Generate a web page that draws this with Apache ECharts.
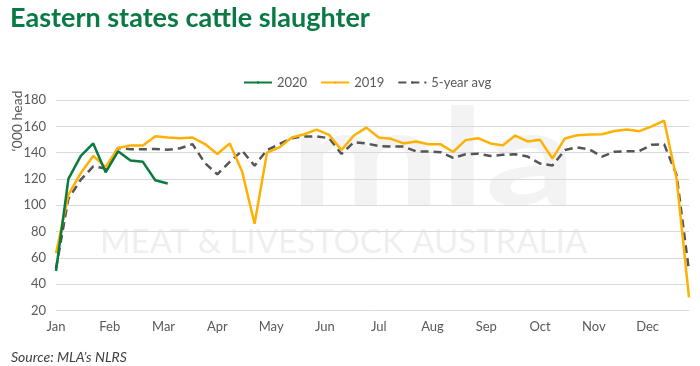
<!DOCTYPE html>
<html>
<head>
<meta charset="utf-8">
<script src="https://cdn.jsdelivr.net/npm/echarts@6/dist/echarts.min.js"></script>
<style>
html,body{margin:0;padding:0;background:#fff;}
#chart{width:700px;height:366px;}
</style>
</head>
<body>
<div id="chart"></div>
<script>
var months = ['Jan','Feb','Mar','Apr','May','Jun','Jul','Aug','Sep','Oct','Nov','Dec'];
var series2020 = [50,120,137.5,147,125,141,134,133,119,116.5];
var series2019 = [63.5,108,124.5,137.5,129,143.5,145.5,145.5,152.5,151.5,151,151.5,146.5,139,147,125.5,86,140,144,151.5,154,157.5,153.5,142,153,159,151.5,150.5,147,148.5,146.3,146.3,140.5,149.5,151,147,145.5,153,148.5,149.7,135.5,150.8,153.2,153.7,154,156.5,157.5,156.3,160,164.3,120,30];
var series5yr = [52,105,119.5,129.5,128,143.5,142.5,142.5,142.8,142.2,143.3,146.5,132,123.5,133,141.5,130,142,146.5,151,152.3,152.3,151,139,148,147,145,144.6,144.6,141,140.8,140.3,136,138.8,139.2,137.5,138.3,138.8,137,131.7,130.2,142,144,142.3,137,140.7,141,141.2,146,146.3,123,50];

function toPairs(arr){ return arr.map(function(v,i){ return [i,v]; }); }
var monthStep = 52/12;
var FONT = 'Lato';
var solidIcon = 'path://M0,0H28V3H0Z';
var dashIcon = 'path://M0,0H7V3H0Z M11,0H18V3H11Z M22,0H28V3H22Z';

var chart = echarts.init(document.getElementById('chart'), null, {renderer:'canvas'});
chart.setOption({
  backgroundColor:'#ffffff',
  animation:false,
  textStyle:{fontFamily:FONT},
  title:[
    {text:'Eastern states cattle slaughter', left:5, top:0,
     textStyle:{fontFamily:FONT, fontWeight:'bold', fontSize:27, color:'#0a7a45'}},
    {text:'Source: MLA\u2019s NLRS', left:6, top:345,
     textStyle:{fontFamily:FONT, fontStyle:'italic', fontWeight:'normal', fontSize:14, color:'#404040'}}
  ],
  graphic:[
    {type:'text', z:-10, x:290, y:161, scaleX:1.33, silent:true,
     style:{text:'mla', fontFamily:FONT, fontWeight:'bold', fontSize:135, fill:'#f3f3f3', textVerticalAlign:'middle'}},
    {type:'text', z:-10, left:100, top:226, silent:true,
     style:{text:'MEAT & LIVESTOCK AUSTRALIA', fontFamily:FONT, fontSize:33, fill:'#efefef'}},
    {type:'text', x:17, y:121, rotation:Math.PI/2, silent:true,
     style:{text:'\u2018000 head', fontFamily:FONT, fontSize:14, fill:'#595959', textAlign:'center', textVerticalAlign:'middle'}}
  ],
  legend:{
    left:238, top:71, itemWidth:28, itemHeight:3, itemGap:13,
    textStyle:{fontFamily:FONT, fontSize:13, color:'#595959'},
    data:['2020','2019','5-year avg']
  },
  grid:{left:56, right:11, top:100, bottom:55.5, containLabel:false},
  xAxis:{
    type:'value', min:0, max:51, interval:monthStep,
    axisLine:{show:false}, axisTick:{show:false}, splitLine:{show:false},
    axisLabel:{
      fontFamily:FONT, fontSize:13, color:'#595959', margin:10, showMaxLabel:false,
      formatter:function(v){
        var k = Math.round(v/monthStep);
        if (Math.abs(v - k*monthStep) < 0.05 && k >= 0 && k < 12) return months[k];
        return '';
      }
    }
  },
  yAxis:{
    type:'value', min:20, max:180, interval:20,
    axisLine:{show:false}, axisTick:{show:false},
    splitLine:{lineStyle:{color:'#d9d9d9', width:1}},
    axisLabel:{fontFamily:FONT, fontSize:13, color:'#595959', margin:10}
  },
  series:[
    {name:'2020', type:'line', data:toPairs(series2020), symbol:'none', z:4, legendIcon:solidIcon,
     lineStyle:{color:'#0a7a3e', width:2.5}, itemStyle:{color:'#0a7a3e'}},
    {name:'2019', type:'line', data:toPairs(series2019), symbol:'none', z:3, legendIcon:solidIcon,
     lineStyle:{color:'#ffb000', width:2.5}, itemStyle:{color:'#ffb000'}},
    {name:'5-year avg', type:'line', data:toPairs(series5yr), symbol:'none', z:2, legendIcon:dashIcon,
     lineStyle:{color:'#555555', width:2.5, type:[8,5]}, itemStyle:{color:'#555555'}}
  ]
});
</script>
</body>
</html>
